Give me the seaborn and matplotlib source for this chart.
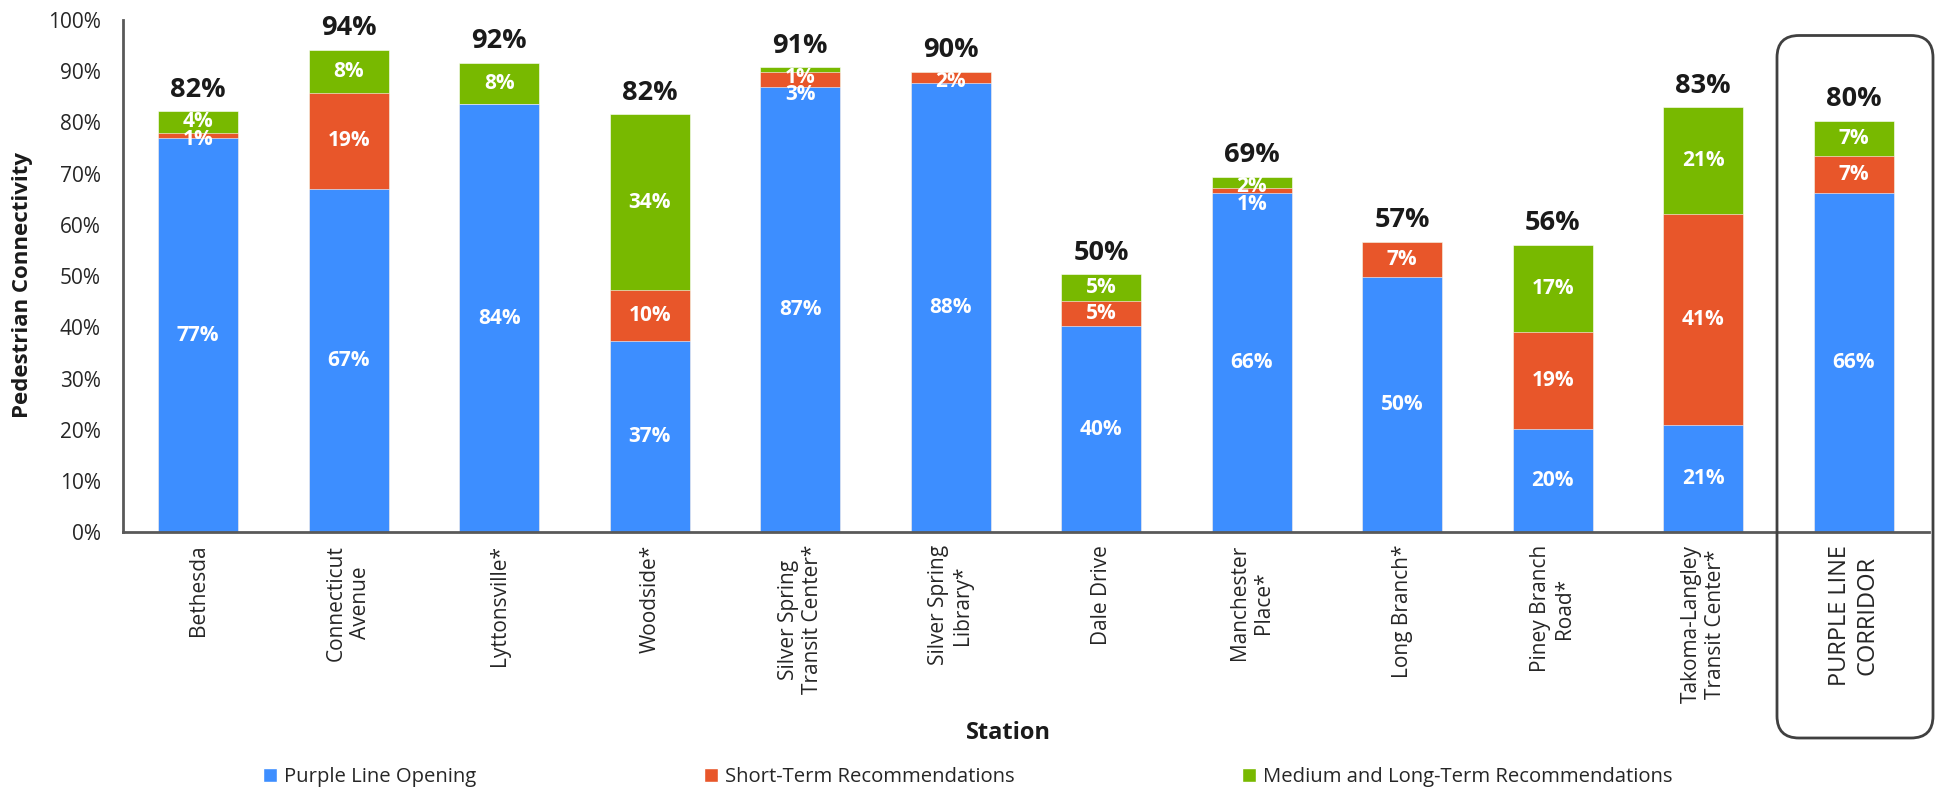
import matplotlib
matplotlib.use("Agg")
import matplotlib.pyplot as plt
import pandas as pd
import seaborn as sns
from matplotlib.patches import FancyBboxPatch, Patch

stations = ["Bethesda", "Connecticut\nAvenue", "Lyttonsville*", "Woodside*",
            "Silver Spring\nTransit Center*", "Silver Spring\nLibrary*", "Dale Drive",
            "Manchester\nPlace*", "Long Branch*", "Piney Branch\nRoad*",
            "Takoma-Langley\nTransit Center*", "PURPLE LINE\nCORRIDOR"]
opening = [77.0, 67.0, 83.6, 37.3, 86.8, 87.6, 40.3, 66.3, 49.8, 20.1, 21.0, 66.2]
short_term = [1.0, 18.8, 0.0, 9.9, 3.0, 2.3, 4.9, 0.9, 6.9, 19.0, 41.2, 7.2]
long_term = [4.2, 8.4, 8.0, 34.4, 1.0, 0.0, 5.2, 2.2, 0.0, 17.0, 20.8, 6.9]

series_names = ["Purple Line Opening", "Short-Term Recommendations",
                "Medium and Long-Term Recommendations"]
colors = ["#3D8EFF", "#E8562A", "#78B900"]
y_ticks = list(range(0, 101, 10))

df = pd.DataFrame({"station": stations, "opening": opening,
                   "short": short_term, "long": long_term})
df["lvl1"] = df["opening"]
df["lvl2"] = df["lvl1"] + df["short"]
df["total"] = df["lvl2"] + df["long"]

sns.set_theme(style="white")
plt.rcParams["font.family"] = ["Open Sans", "DejaVu Sans"]

fig = plt.figure(figsize=(19.4, 7.91), dpi=100)
ax = fig.add_axes([0.0634, 0.327, 0.9309, 0.648])

# stacked bars: draw cumulative totals from the top layer down
for col, color in zip(["total", "lvl2", "lvl1"], colors[::-1]):
    sns.barplot(data=df, x="station", y=col, color=color, saturation=1,
                width=0.53, errorbar=None, edgecolor="white", linewidth=0.4, ax=ax)

# segment labels (pushed down when they would overlap, like Excel)
for i, row in df.iterrows():
    segs = [(0, row["opening"]), (row["lvl1"], row["short"]), (row["lvl2"], row["long"])]
    prev = row["total"] - 2.0 + 3.4
    for base, v in reversed(segs):
        if v < 0.5:
            continue
        y = min(base + v / 2, prev - 3.4)
        prev = y
        ax.text(i, y, f"{v:.0f}%", ha="center", va="center", color="white",
                fontsize=15, fontweight="bold")
    ax.annotate(f"{row['total']:.0f}%", (i, row["total"]), xytext=(0, 6),
                textcoords="offset points", ha="center", va="bottom",
                fontsize=19.5, fontweight="bold", color="#1a1a1a")

ax.set_xlim(-0.5, len(stations) - 0.5)
ax.set_ylim(0, 100)
ax.set_yticks(y_ticks)
ax.set_yticklabels([f"{t}%" for t in y_ticks], fontsize=15, color="#262626")
ax.set_xticks(range(len(stations)))
ax.set_xticklabels(stations, rotation=90, ha="center", va="top",
                   multialignment="center", fontsize=15, color="#262626")
last = ax.get_xticklabels()[-1]
last.set_family(["Liberation Sans Narrow", "Open Sans"])
last.set_fontsize(17)
ax.tick_params(axis="y", length=0, pad=16)
ax.tick_params(axis="x", length=0, pad=9)
ax.set_xlabel("")
ax.set_ylabel("")
sns.despine(ax=ax)
for s in ["left", "bottom"]:
    ax.spines[s].set_color("#595959")
    ax.spines[s].set_linewidth(2)

fig.text(0.0115, 0.64, "Pedestrian Connectivity", rotation=90, ha="center",
         va="center", fontsize=16, fontweight="bold", color="#1a1a1a")
fig.text(0.52, 0.073, "Station", ha="center", va="center",
         fontsize=17, fontweight="bold", color="#1a1a1a")

# rounded frame around the corridor total
box = FancyBboxPatch((17.77, 0.53), 1.56, 7.025,
                     boxstyle="round,pad=0,rounding_size=0.22",
                     transform=fig.dpi_scale_trans, fill=False,
                     edgecolor="#404040", linewidth=2.0)
fig.add_artist(box)

handles = [Patch(facecolor=c, label=n) for c, n in zip(colors, series_names)]
fig.legend(handles=handles, loc="center left", bbox_to_anchor=(263 / 1940, 0.018),
           ncol=3, frameon=False, fontsize=14.6, handlelength=0.7, handleheight=0.7,
           handletextpad=0.35, columnspacing=11.2, borderpad=0, borderaxespad=0)

fig.savefig("out.png", dpi=100)
